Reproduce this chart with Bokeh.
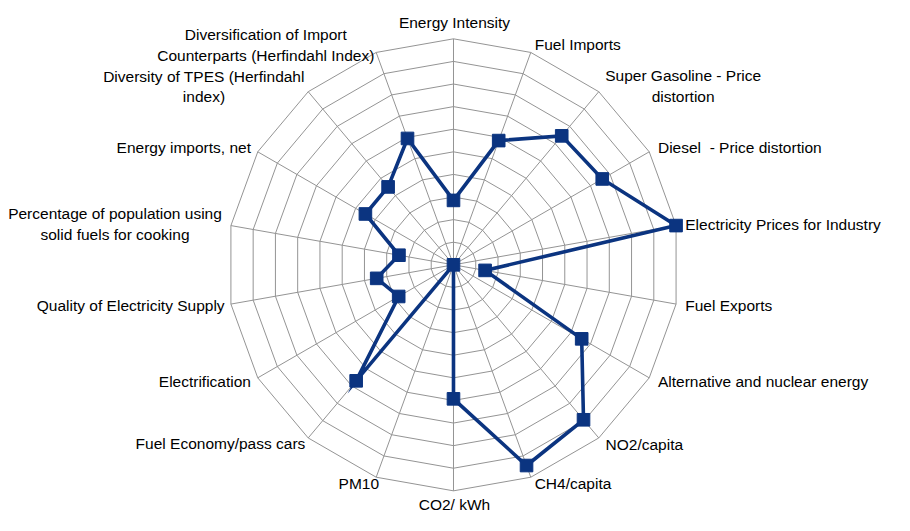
import math
from bokeh.plotting import figure
from bokeh.models import Range1d
from bokeh.core.properties import value
from bokeh.embed import file_html
from bokeh.resources import INLINE

# ---- data ----
categories = [
    "Energy Intensity",
    "Fuel Imports",
    "Super Gasoline - Price\ndistortion",
    "Diesel\u00a0 - Price distortion",
    "Electricity Prices for Industry",
    "Fuel Exports",
    "Alternative and nuclear energy",
    "NO2/capita",
    "CH4/capita",
    "CO2/ kWh",
    "PM10",
    "Fuel Economy/pass cars",
    "Electrification",
    "Quality of Electricity Supply",
    "Percentage of population using\nsolid fuels for cooking",
    "Energy imports, net",
    "Diversity of TPES (Herfindahl\nindex)",
    "Diversification of Import\nCounterparts (Herfindahl Index)",
]
scores = [2.85, 5.85, 7.45, 7.6, 10.0, 1.42, 6.55, 8.95, 9.45, 5.93,
          0.0, 6.7, 2.8, 3.45, 2.45, 4.5, 4.5, 5.95]
ring_levels = [1, 2, 3, 4, 5, 6, 7, 8, 9, 10]
scale_max = 10

# ---- layout ----
W, H = 894, 515
S = 0.97                 # overall scale so that everything fits
PX = 23.3 * S            # pixels per unit
CX, CY = 467 * S, 272.5 * S  # centre in figure pixels
FONT = "Liberation Sans"
FONT_SIZE = f"{16 * S:.1f}px"
NAVY = "#0b3480"
GRID = "#949494"

# label offsets from axis end, in pixels (dx right, dy down), and alignment
label_layout = [
    (1, -17, "center"), (4, -8, "left"), (87, -6, "center"), (9, -4, "left"),
    (9.5, -1, "left"), (9.5, 1, "left"), (9, 4, "left"), (7, 7, "left"),
    (4, 6.5, "left"), (1, 14.5, "center"), (3, 6.5, "right"), (-3, 6, "right"),
    (-7, 4, "right"), (-6.5, 1, "right"), (-119.5, -1.5, "center"),
    (-7, -4, "right"), (-107.5, -5.5, "center"), (-113.8, -7.6, "center"),
]

n = len(categories)
angles = [2 * math.pi * i / n for i in range(n)]

p = figure(width=W, height=H, output_backend="svg", toolbar_location=None,
           x_axis_type=None, y_axis_type=None,
           x_range=Range1d(-CX / PX, (W - CX) / PX),
           y_range=Range1d((CY - H) / PX, CY / PX),
           min_border=0, outline_line_color=None)
p.background_fill_color = "white"
p.border_fill_color = "white"

# rings
for lv in ring_levels:
    xs = [lv * math.sin(a) for a in angles]
    ys = [lv * math.cos(a) for a in angles]
    p.line(xs + xs[:1], ys + ys[:1], line_color=GRID, line_width=1)

# spokes
p.multi_line([[0, scale_max * math.sin(a)] for a in angles],
             [[0, scale_max * math.cos(a)] for a in angles],
             line_color=GRID, line_width=1)

# series
sx = [v * math.sin(a) for v, a in zip(scores, angles)]
sy = [v * math.cos(a) for v, a in zip(scores, angles)]
p.line(sx + sx[:1], sy + sy[:1], line_color=NAVY, line_width=3.6,
       line_join="miter")
p.scatter(sx, sy, marker="square", size=13 * S, fill_color=NAVY,
          line_color=NAVY)

# labels
for cat, a, (dx, dy, al) in zip(categories, angles, label_layout):
    ex = scale_max * math.sin(a) + dx * S / PX
    ey = scale_max * math.cos(a) - dy * S / PX
    p.text([ex], [ey], text=[cat], text_align=al, text_baseline="middle",
           text_font=value(FONT), text_font_size=FONT_SIZE,
           text_color="#000000", text_line_height=1.2)

open("out.html", "w").write(file_html(p, INLINE))
